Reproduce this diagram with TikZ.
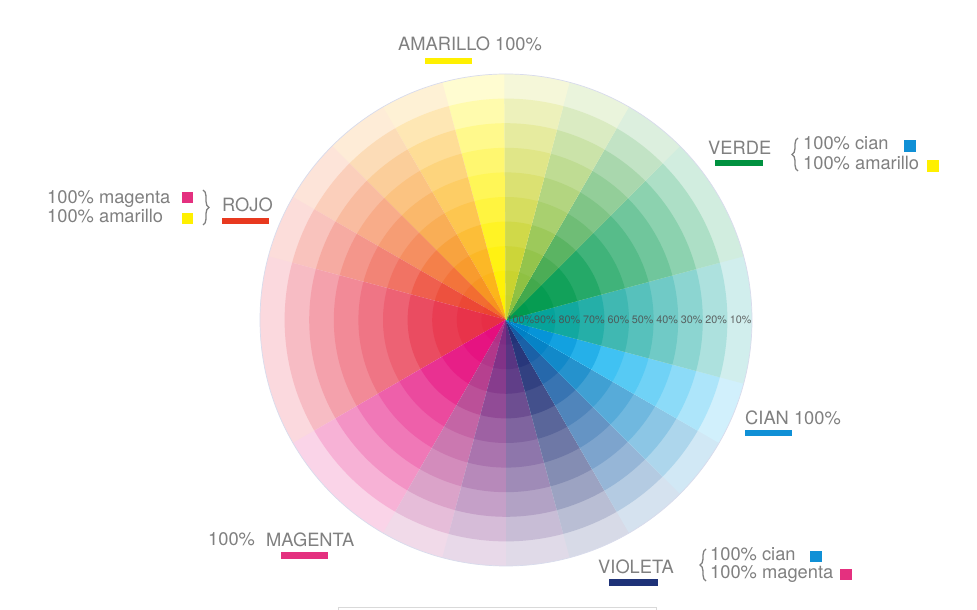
\documentclass[tikz,border=0pt]{standalone}
\usepackage{fontspec}
\setmainfont{TeX Gyre Heros}
\usetikzlibrary{decorations.pathreplacing}
\definecolor{labelgray}{HTML}{808080}
\definecolor{pctgray}{HTML}{4D4D4D}
\definecolor{wheelline}{HTML}{D8DBEC}
\definecolor{barY}{HTML}{FFF000}
\definecolor{barG}{HTML}{00913F}
\definecolor{barR}{HTML}{E8391F}
\definecolor{barM}{HTML}{E4307F}
\definecolor{barV}{HTML}{1E3278}
\definecolor{barC}{HTML}{1090D6}
% sector base colours (100%)
\definecolor{sA}{HTML}{FFF100}
\definecolor{sB}{HTML}{FCB316}
\definecolor{sC}{HTML}{F7931E}
\definecolor{sD}{HTML}{F26A2C}
\definecolor{sE}{HTML}{EC4430}
\definecolor{sF}{HTML}{E72E46}
\definecolor{sG}{HTML}{E50E7E}
\definecolor{sH}{HTML}{B03287}
\definecolor{sI}{HTML}{7E2D84}
\definecolor{sJ}{HTML}{54307F}
\definecolor{sK}{HTML}{233378}
\definecolor{sL}{HTML}{165DA5}
\definecolor{sM}{HTML}{0080C5}
\definecolor{sN}{HTML}{00AEEF}
\definecolor{sNd}{HTML}{0070BA}
\definecolor{sO}{HTML}{00A199}
\definecolor{sP}{HTML}{009A4E}
\definecolor{sQ}{HTML}{3FA749}
\definecolor{sR}{HTML}{8CC03F}
\definecolor{sS}{HTML}{C8D22A}
\begin{document}
\begin{tikzpicture}[x=1pt,y=1pt,
  lbl/.style={text=labelgray, font=\fontsize{18.3}{21}\selectfont, inner sep=0pt, anchor=base west},
  pct/.style={text=pctgray, font=\fontsize{10.8}{12}\selectfont, inner sep=0pt, opacity=0.85},
  bracebox/.style={draw=labelgray, line width=1.3pt, decorate, decoration={brace, amplitude=6pt}}]
\useasboundingbox (0,0) rectangle (977,610);
\fill[white] (0,0) rectangle (977,610);
\coordinate (C) at (506,290);
% colour wheel
\foreach \a/\b/\c/\d in {90/105/sA/sA, 105/120/sB/sB, 120/135/sC/sC, 135/150/sD/sD,
  150/165/sE/sE, 165/210/sF/sF, 210/240/sG/sG, 240/255/sH/sH,
  255/270/sI/sI, 270/285/sJ/sJ, 285/300/sK/sK, 300/315/sL/sL, 315/330/sM/sM,
  330/345/sN/sNd, 345/375/sO/sO, 375/405/sP/sP, 405/420/sQ/sQ, 420/435/sR/sR, 435/450/sS/sS}{
  \foreach \k/\f/\h in {9/18/100, 8/32/100, 7/45/100, 6/56/100, 5/66/100, 4/75/100,
     3/83/85, 2/90/70, 1/96/55, 0/100/40}{
    \pgfmathsetmacro{\r}{24.6*(\k+1)}
    \pgfmathsetmacro{\e}{\b+0.4}
    \fill[fill=\c!\f!white!\h!\d] (C) -- ++(\a:\r) arc[start angle=\a, end angle=\e, radius=\r] -- cycle;
  }
}
\draw[wheelline, line width=0.7pt] (C) circle[radius=246];
% percentage labels
\foreach \k/\t in {0/100, 1/90, 2/80, 3/70, 4/60, 5/50, 6/40, 7/30, 8/20, 9/10}{
  \node[pct] (p\k) at ({520.5+24.45*\k}, 290.5) {\t\%};
}
% AMARILLO
\node[lbl] (amarillo) at (398,559) {AMARILLO 100\%};
\fill[barY] (425,546) rectangle (472,552);
% VERDE
\node[lbl] (verde) at (708,455) {VERDE};
\fill[barG] (715,443.5) rectangle (763,449.5);
\draw[bracebox] (798,439) -- (798,472);
\node[lbl] (vcian) at (803,460) {100\% cian};
\node[lbl] (vamar) at (803,440) {100\% amarillo};
\fill[barC] (903.5,458) rectangle (915.5,470);
\fill[barY] (927,438) rectangle (939,450);
% ROJO
\node[lbl] (rmag) at (47,406.7) {100\% magenta};
\node[lbl] (ramar) at (47,387.3) {100\% amarillo};
\fill[barM] (181.5,406.5) rectangle (193,418);
\fill[barY] (182,386) rectangle (193,397);
\draw[bracebox] (203,420) -- (203,385);
\node[lbl] (rojo) at (222,398.3) {ROJO};
\fill[barR] (222,385.5) rectangle (269,391.5);
% CIAN
\node[lbl] (cian) at (745,185) {CIAN 100\%};
\fill[barC] (745,174) rectangle (792,180);
% MAGENTA
\node[lbl] (mpct) at (208,64) {100\%};
\node[lbl] (magenta) at (266,63) {MAGENTA};
\fill[barM] (281,51) rectangle (328,58);
% VIOLETA
\node[lbl] (violeta) at (598,36) {VIOLETA};
\fill[barV] (609,24) rectangle (658,31);
\draw[bracebox] (706,29) -- (706,61);
\node[lbl] (vician) at (710,49.3) {100\% cian};
\node[lbl] (vimag) at (710,31.5) {100\% magenta};
\fill[barC] (810,48) rectangle (822,59);
\fill[barM] (840,29.5) rectangle (852,40.5);
% bottom edge
\draw[black!15, line width=0.8pt] (338,0) -- (338,3) -- (656,3) -- (656,0);
\end{tikzpicture}
\end{document}
